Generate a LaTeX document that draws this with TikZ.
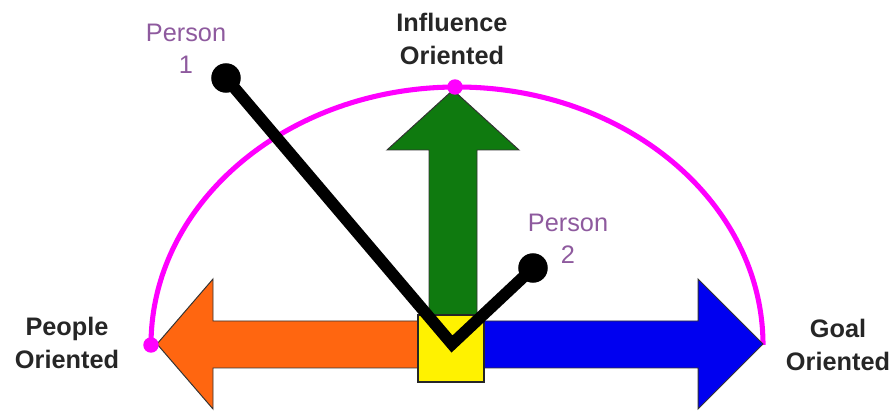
\documentclass[tikz,border=0pt]{standalone}
\usepackage{fontspec}
\setmainfont{Liberation Sans}
\usetikzlibrary{calc}
\definecolor{arcmag}{HTML}{FF00FF}
\definecolor{infl}{HTML}{0F7A0F}
\definecolor{people}{HTML}{FF6610}
\definecolor{goal}{HTML}{0000F0}
\definecolor{person}{HTML}{8E5A9E}

\tikzset{
  axistext/.style={font=\fontsize{18}{23}\selectfont\bfseries,align=center,text=black!85},
  pname/.style={font=\fontsize{18}{23}\selectfont,align=center,text=person},
  persondot/.style={circle,fill=black,inner sep=0pt,minimum size=21pt},
  magdot/.style={circle,fill=arcmag,inner sep=0pt,minimum size=11pt},
  bigarrow/.style={draw=black!80,line width=0.7pt,line join=miter}
}

\begin{document}
\begin{tikzpicture}[x=0.025cm,y=-0.025cm]
  \useasboundingbox (0,0) rectangle (893,411);
  % half ring
  \draw[arcmag,line width=3.6pt] (151,345) arc[start angle=180,end angle=360,x radius=306,y radius=258];
  % the three arrows
  \filldraw[bigarrow,fill=infl] (429,318) -- (429,150) -- (387,150) -- (453,90) -- (519,150) -- (477,150) -- (477,318) -- cycle;
  \filldraw[bigarrow,fill=people] (430,321) -- (213,321) -- (213,279) -- (157,344) -- (213,409) -- (213,368) -- (430,368) -- cycle;
  \filldraw[bigarrow,fill=goal] (475,321) -- (698,321) -- (698,279) -- (763,344) -- (698,409) -- (698,368) -- (475,368) -- cycle;
  \filldraw[fill=yellow,draw=black!85,line width=1pt] (418,315) rectangle (484,382);
  \node[magdot] (top) at (455,87) {};
  \node[magdot] (left) at (151,345) {};
  % persons
  \coordinate (v) at (452,344);
  \node[persondot] (p1) at (226,78) {};
  \node[persondot] (p2) at (533,268) {};
  \draw[line width=8.4pt,line join=miter] (p1.center) -- (v) -- (p2.center);
  \node[pname] (n1) at (186,49) {Person\\1};
  \node[pname] (n2) at (568,239) {Person\\2};
  \node[axistext] (inf) at (452,39) {Influence\\Oriented};
  \node[axistext] (ppl) at (67,343) {People\\Oriented};
  \node[axistext] (gl) at (838,345) {Goal\\Oriented};
\end{tikzpicture}
\end{document}
